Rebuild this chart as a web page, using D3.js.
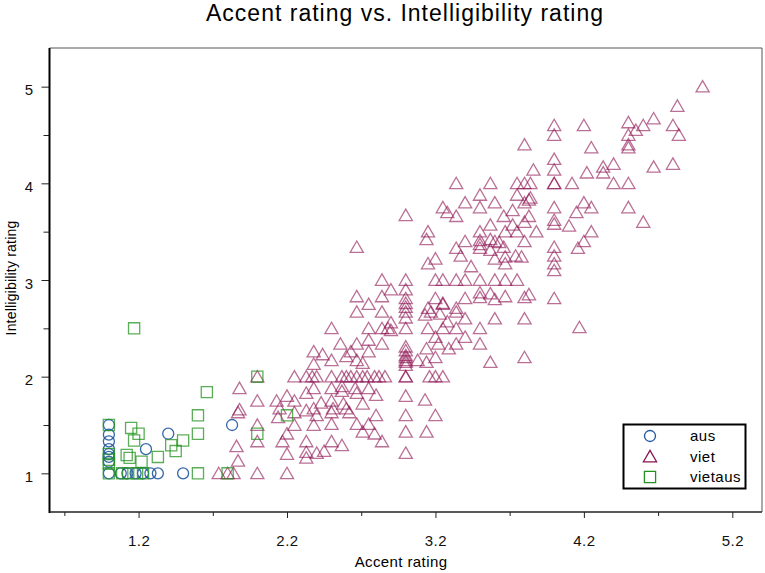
<!DOCTYPE html>
<html>
<head>
<meta charset="utf-8">
<script src="https://cdn.jsdelivr.net/npm/d3@7"></script>
<style>
  body { margin: 0; background: #fff; }
  svg { display: block; font-family: "Liberation Sans", Arial, sans-serif; }
</style>
</head>
<body>
<div id="chart"></div>
<script>
// Values.
const groups = ['aus', 'viet', 'vietaus'];

const ausPoints = [
  [1.0, 1.0], [1.0, 1.12], [1.0, 1.17], [1.0, 1.2], [1.0, 1.25], [1.0, 1.33], [1.0, 1.4], [1.0, 1.5],
  [1.08, 1.0], [1.125, 1.0], [1.18, 1.0], [1.23, 1.0], [1.28, 1.0], [1.33, 1.0], [1.5, 1.0],
  [1.40, 1.41], [1.25, 1.25], [1.83, 1.5]
];

const vietausPoints = [
  [1.0, 1.5], [1.0, 1.14], [1.0, 1.2], [1.0, 1.1], [1.0, 1.0], [1.15, 1.47], [1.2, 1.41], [1.17, 1.34],
  [1.12, 1.19], [1.14, 1.16], [1.22, 1.12], [1.09, 1.0], [1.13, 1.0], [1.19, 1.0], [1.23, 1.0],
  [1.33, 1.17], [1.42, 1.29], [1.45, 1.23], [1.5, 1.34], [1.6, 1.6], [1.6, 1.41], [1.6, 1.0],
  [1.66, 1.84], [1.8, 1.0], [1.17, 2.5], [2.0, 2.0], [2.0, 1.41], [2.2, 1.6]
];

const vietPoints = [
  // lower cluster
  [1.74, 1.0], [1.8, 1.0], [1.84, 1.0], [2.0, 1.0], [2.2, 1.0],
  [1.87, 1.13], [1.86, 1.28], [1.87, 1.63], [1.88, 1.66], [1.88, 1.88],
  [2.0, 1.33], [2.0, 1.5], [2.0, 1.75], [2.0, 2.0],
  [2.13, 1.75], [2.14, 1.58], [2.15, 1.67], [2.17, 1.33], [2.2, 1.8], [2.2, 1.41], [2.2, 1.2],
  [2.25, 1.75], [2.25, 1.5], [2.25, 1.63], [2.25, 2.0],
  [2.33, 1.83], [2.33, 1.65], [2.33, 1.33], [2.33, 1.22], [2.33, 1.16], [2.33, 2.0],
  [2.38, 1.88], [2.38, 1.67], [2.38, 1.5], [2.37, 2.0],
  [2.4, 1.6], [2.4, 1.21], [2.4, 2.0], [2.43, 1.73], [2.45, 1.23],
  [2.5, 2.0], [2.5, 1.88], [2.5, 1.75], [2.51, 1.67], [2.5, 1.63], [2.5, 1.51], [2.5, 1.33],
  [2.57, 2.0], [2.57, 1.85], [2.58, 1.72], [2.57, 1.29], [2.57, 1.9], [2.6, 2.0], [2.6, 1.67], [2.62, 1.63], [2.63, 2.0],
  [2.67, 2.0], [2.66, 1.88], [2.67, 1.83], [2.67, 1.51],
  [2.71, 2.0], [2.71, 1.72], [2.71, 1.43],
  [2.74, 2.0], [2.75, 1.88], [2.75, 1.51],
  [2.79, 2.0], [2.8, 1.81], [2.8, 1.6], [2.79, 1.41],
  [2.82, 2.0], [2.84, 1.33], [2.86, 2.0],
  // middle
  [2.67, 3.34], [2.84, 3.0], [2.9, 2.9], [2.84, 2.83], [2.67, 2.83], [2.75, 2.75], [2.67, 2.67],
  [2.84, 2.67], [2.9, 2.56],
  [3.0, 2.9], [3.0, 2.81], [3.0, 2.72], [3.0, 2.67], [3.0, 2.61], [3.0, 2.5], [3.0, 3.0], [3.0, 2.76],
  [2.5, 2.5], [2.75, 2.5], [2.84, 2.5], [2.88, 2.5], [2.9, 2.48],
  [2.56, 2.34], [2.67, 2.34], [2.75, 2.38], [2.84, 2.34],
  [2.38, 2.26], [2.44, 2.23], [2.5, 2.17], [2.38, 2.13], [2.6, 2.21], [2.63, 2.26], [2.67, 2.17],
  [2.75, 2.26], [2.71, 2.14],
  [3.0, 2.2], [3.0, 2.15], [3.0, 2.12], [3.0, 2.0], [3.0, 2.0],
  [3.0, 1.21], [3.0, 1.43], [3.14, 1.43], [3.0, 1.6], [3.2, 1.6], [3.0, 1.8], [3.13, 1.76],
  [3.16, 2.0], [3.2, 2.0], [3.25, 2.0],
  [3.0, 2.17], [3.0, 2.22], [3.0, 2.27], [3.0, 2.31],
  [3.08, 2.17], [3.14, 2.15], [3.2, 2.2], [3.14, 2.29], [3.22, 2.34], [3.29, 2.29], [3.34, 2.34],
  [3.4, 2.41], [3.5, 2.34], [3.57, 2.15], [3.8, 2.2], [3.2, 2.41], [3.5, 2.5],
  [3.15, 2.5], [3.25, 2.5], [3.34, 2.5], [3.28, 2.57], [3.4, 2.6], [3.6, 2.6], [3.8, 2.6],
  [3.13, 2.64], [3.17, 2.67], [3.23, 2.65], [3.34, 2.67], [3.25, 2.76],
  [3.2, 2.81], [3.25, 2.75], [3.4, 2.81], [3.5, 2.87], [3.5, 2.82], [3.57, 2.86], [3.6, 2.8],
  [3.67, 2.83], [3.8, 2.82], [3.83, 2.85], [4.0, 2.81], [3.15, 2.71], [3.34, 2.71],
  [4.17, 2.51],
  // upper middle
  [3.2, 3.0], [3.25, 3.0], [3.34, 3.0], [3.4, 3.0], [3.5, 3.0], [3.6, 3.0], [3.67, 3.0], [3.75, 3.0],
  [3.37, 3.25], [3.57, 3.31], [3.6, 3.22], [3.67, 3.24], [3.67, 3.17], [3.74, 3.25], [3.78, 3.24],
  [3.2, 3.22], [3.15, 3.17], [3.44, 3.14],
  [3.4, 3.4], [3.5, 3.41], [3.5, 3.37], [3.5, 3.33], [3.57, 3.42], [3.6, 3.4], [3.63, 3.39],
  [3.66, 3.34], [3.34, 3.33], [3.8, 3.4],
  [3.0, 3.67], [3.15, 3.5], [3.14, 3.42], [3.5, 3.5], [3.57, 3.57], [3.72, 3.57], [3.67, 3.5],
  [3.75, 3.5], [3.8, 3.6], [3.88, 3.5],
  [3.5, 3.88], [3.75, 3.88], [3.4, 3.8], [3.6, 3.8], [3.25, 3.75], [3.28, 3.7], [3.34, 3.66],
  [3.5, 3.75], [3.8, 3.8], [3.83, 3.83], [3.72, 3.72], [3.66, 3.66], [3.83, 3.66],
  [3.34, 4.0], [3.57, 4.0], [3.75, 4.0], [3.8, 4.0], [3.84, 4.0],
  // top
  [5.0, 5.0], [4.83, 4.8], [4.67, 4.67], [4.5, 4.63], [4.6, 4.6], [4.55, 4.55], [4.8, 4.6],
  [4.84, 4.5], [4.5, 4.5], [4.5, 4.37], [4.5, 4.4], [4.0, 4.6], [4.0, 4.5], [4.2, 4.6], [4.25, 4.37],
  [4.0, 4.25], [4.0, 4.14], [3.86, 4.14], [3.8, 4.4], [4.4, 4.2], [4.33, 4.17], [4.33, 4.11],
  [4.22, 4.11], [4.67, 4.17], [4.8, 4.2], [4.0, 4.0], [4.0, 4.0], [4.12, 4.0], [4.4, 4.0], [4.5, 4.0],
  [3.84, 3.85], [4.2, 3.8], [4.25, 3.75], [4.15, 3.7], [4.0, 3.75], [4.5, 3.75],
  [4.0, 3.62], [4.0, 3.58], [4.6, 3.6], [4.1, 3.56], [4.25, 3.5], [4.2, 3.4], [4.16, 3.33],
  [4.0, 3.34], [4.0, 3.25], [4.0, 3.17], [4.0, 3.1]
];

const xTicks = [1.2, 2.2, 3.2, 4.2, 5.2];
const xMinorTicks = [0.7, 1.7, 2.7, 3.7, 4.7];
const yTicks = [1, 2, 3, 4, 5];
const yMinorTicks = [1.5, 2.5, 3.5, 4.5];

const width = 765, height = 573;
const plot = {left: 49.5, right: 762, top: 48, bottom: 512};

const svg = d3.select('#chart').append('svg')
  .attr('width', width)
  .attr('height', height);

const x = d3.scaleLinear().domain([0.6, 5.4]).range([plot.left, plot.right]);
const y = d3.scaleLinear().domain([0.6, 5.4]).range([plot.bottom, plot.top]);

// Axes: major ticks with labels, minor ticks without.
svg.append('g')
  .attr('transform', `translate(0,${plot.bottom})`)
  .call(d3.axisBottom(x).tickValues(xTicks).tickSize(6).tickPadding(17).tickFormat(d3.format('.1f')));
svg.append('g')
  .attr('transform', `translate(0,${plot.bottom})`)
  .call(d3.axisBottom(x).tickValues(xMinorTicks).tickSize(4).tickFormat(''));
const yAxis = svg.append('g')
  .attr('transform', `translate(${plot.left},0)`)
  .call(d3.axisLeft(y).tickValues(yTicks).tickSize(8).tickPadding(8).tickFormat(d3.format('d')));
svg.append('g')
  .attr('transform', `translate(${plot.left},0)`)
  .call(d3.axisLeft(y).tickValues(yMinorTicks).tickSize(6).tickFormat(''));

svg.selectAll('.domain').remove();
svg.selectAll('.tick line').attr('stroke', '#222').attr('stroke-width', 1);
svg.selectAll('.tick text')
  .style('font-size', '15px')
  .style('letter-spacing', '0.5px')
  .attr('fill', '#111');
// Y labels sit a little below their ticks in the reference.
yAxis.selectAll('.tick text').attr('dy', '0.55em');

// Plot frame.
svg.append('line').attr('x1', plot.left).attr('x2', plot.right).attr('y1', plot.top).attr('y2', plot.top)
  .attr('stroke', '#555').attr('stroke-width', 1);
svg.append('line').attr('x1', plot.right).attr('x2', plot.right).attr('y1', plot.top).attr('y2', plot.bottom)
  .attr('stroke', '#555').attr('stroke-width', 1);
svg.append('line').attr('x1', plot.left).attr('x2', plot.left).attr('y1', plot.top).attr('y2', plot.bottom + 1)
  .attr('stroke', '#000').attr('stroke-width', 2);
svg.append('line').attr('x1', plot.left).attr('x2', plot.right).attr('y1', plot.bottom).attr('y2', plot.bottom)
  .attr('stroke', '#222').attr('stroke-width', 1.5);

// Marker shapes.
const shapes = {
  aus: d3.symbol().type(d3.symbolCircle).size(95),
  viet: d3.symbol().type(d3.symbolTriangle).size(75),
  vietaus: d3.symbol().type(d3.symbolSquare).size(125)
};
const colors = {aus: '#1f58a0', viet: '#8c1150', vietaus: '#23931f'};
const opac = {aus: 0.9, viet: 0.6, vietaus: 0.75};
const series = {aus: ausPoints, viet: vietPoints, vietaus: vietausPoints};

// Triangle centroid sits lower than the box centre; shift it so the
// glyph box is centred on the point.
const yShift = {aus: 0, viet: 1.5, vietaus: 0};

['viet', 'aus', 'vietaus'].forEach(g => {
  svg.append('g')
    .selectAll('path')
    .data(series[g])
    .enter()
    .append('path')
      .attr('d', shapes[g])
      .attr('transform', d => `translate(${x(d[0])},${y(d[1]) + yShift[g]})`)
      .attr('fill', 'none')
      .attr('stroke', colors[g])
      .attr('stroke-width', 1.3)
      .attr('stroke-opacity', opac[g]);
});

// Title and axis labels.
svg.append('text')
  .attr('x', 405)
  .attr('y', 21)
  .attr('text-anchor', 'middle')
  .style('font-size', '23px')
  .style('letter-spacing', '1px')
  .text('Accent rating vs. Intelligibility rating');
svg.append('text')
  .attr('x', 401)
  .attr('y', 567)
  .attr('text-anchor', 'middle')
  .style('font-size', '15px')
  .style('letter-spacing', '0.4px')
  .text('Accent rating');
svg.append('text')
  .attr('transform', `translate(16,278) rotate(-90)`)
  .attr('text-anchor', 'middle')
  .style('font-size', '14px')
  .style('letter-spacing', '0.2px')
  .text('Intelligibility rating');

// Legend.
const legend = svg.append('g');
legend.append('rect')
  .attr('x', 623.5).attr('y', 424.5)
  .attr('width', 122).attr('height', 64)
  .attr('fill', '#fff')
  .attr('stroke', '#000')
  .attr('stroke-width', 2);
groups.forEach((g, i) => {
  const ly = 436 + i * 20.5;
  legend.append('path')
    .attr('d', shapes[g])
    .attr('transform', `translate(650,${ly + yShift[g]})`)
    .attr('fill', 'none')
    .attr('stroke', colors[g])
    .attr('stroke-width', 1.3);
  legend.append('text')
    .attr('x', 690)
    .attr('y', ly + 5)
    .style('font-size', '15px')
    .style('letter-spacing', '0.5px')
    .text(g);
});
</script>
</body>
</html>
